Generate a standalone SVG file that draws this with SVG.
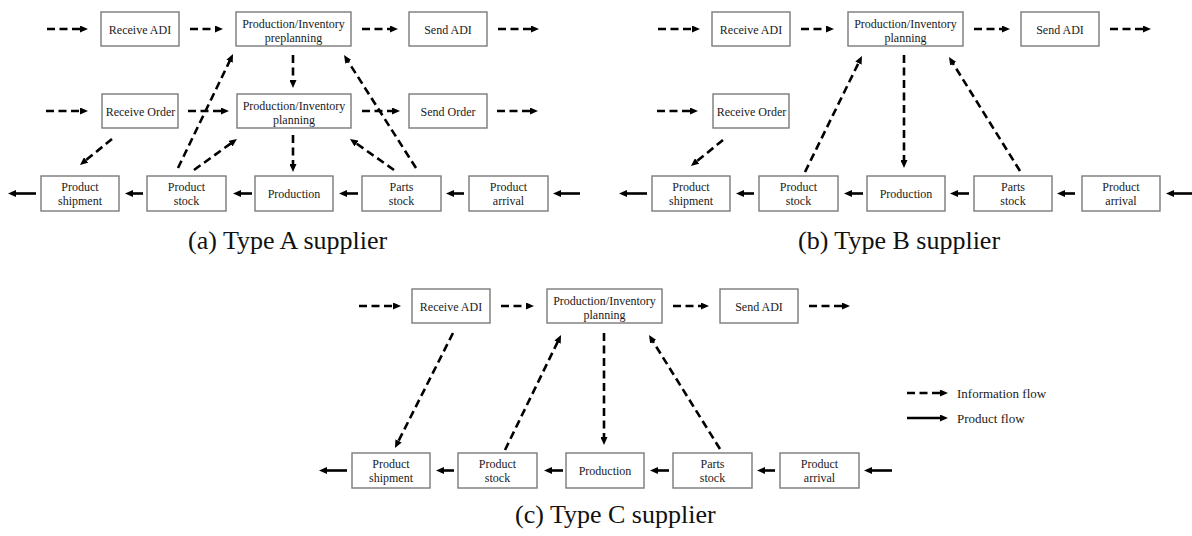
<svg xmlns="http://www.w3.org/2000/svg" width="1192" height="536" viewBox="0 0 1192 536">
  <style>
    .box { fill: #ffffff; stroke: #7a7a7a; stroke-width: 1.4; }
    .t { font-family: "Liberation Serif", "Times New Roman", serif; font-size: 12px; text-anchor: middle; fill: #1a1a1a; }
    .cap { font-family: "Liberation Serif", "Times New Roman", serif; font-size: 26px; fill: #111; }
    .lg { font-family: "Liberation Serif", "Times New Roman", serif; font-size: 13px; fill: #1a1a1a; }
    .info { stroke: #000; stroke-width: 2.6; stroke-dasharray: 8 4.5; fill: none; marker-end: url(#ah); }
    .prod { stroke: #000; stroke-width: 2.6; fill: none; marker-end: url(#ah); }
  </style>
  <defs>
    <marker id="ah" markerUnits="userSpaceOnUse" markerWidth="8" markerHeight="7" viewBox="0 0 8 7" refX="1.5" refY="3.5" orient="auto">
      <path d="M0,0 L8,3.5 L0,7 z" fill="#000"/>
    </marker>
  </defs>

  <rect width="1192" height="536" fill="#ffffff"/>

  <!-- ===== (a) Type A supplier ===== -->
  <g id="a-receive-adi"><rect class="box" x="101" y="12" width="78" height="34"/><text class="t" x="140" y="33.5">Receive ADI</text></g>
  <g id="a-preplanning"><rect class="box" x="236" y="12" width="115" height="34"/><text class="t" x="293.5" y="27.5">Production/Inventory</text><text class="t" x="293.5" y="41.5">preplanning</text></g>
  <g id="a-send-adi"><rect class="box" x="409" y="12" width="78" height="34"/><text class="t" x="448" y="33.5">Send ADI</text></g>
  <g id="a-receive-order"><rect class="box" x="102" y="94" width="76" height="34"/><text class="t" x="140.5" y="115.5">Receive Order</text></g>
  <g id="a-planning"><rect class="box" x="237" y="94" width="114" height="34"/><text class="t" x="294" y="109.5">Production/Inventory</text><text class="t" x="294" y="123.5">planning</text></g>
  <g id="a-send-order"><rect class="box" x="409" y="94" width="78" height="34"/><text class="t" x="448" y="115.5">Send Order</text></g>
  <g id="a-shipment"><rect class="box" x="41" y="176" width="78" height="35"/><text class="t" x="80" y="191">Product</text><text class="t" x="80" y="205">shipment</text></g>
  <g id="a-product-stock"><rect class="box" x="147" y="176" width="79" height="35"/><text class="t" x="186.5" y="191">Product</text><text class="t" x="186.5" y="205">stock</text></g>
  <g id="a-production"><rect class="box" x="255" y="176" width="78" height="35"/><text class="t" x="294" y="198">Production</text></g>
  <g id="a-parts-stock"><rect class="box" x="362" y="176" width="79" height="35"/><text class="t" x="401.5" y="191">Parts</text><text class="t" x="401.5" y="205">stock</text></g>
  <g id="a-arrival"><rect class="box" x="469" y="176" width="79" height="35"/><text class="t" x="508.5" y="191">Product</text><text class="t" x="508.5" y="205">arrival</text></g>
  <text class="cap" x="188" y="249">(a) Type A supplier</text>

  <!-- ===== (b) Type B supplier ===== -->
  <g id="b-receive-adi"><rect class="box" x="712" y="12" width="78" height="34"/><text class="t" x="751" y="33.5">Receive ADI</text></g>
  <g id="b-planning"><rect class="box" x="848" y="12" width="115" height="34"/><text class="t" x="905.5" y="27.5">Production/Inventory</text><text class="t" x="905.5" y="41.5">planning</text></g>
  <g id="b-send-adi"><rect class="box" x="1021" y="12" width="78" height="34"/><text class="t" x="1060" y="33.5">Send ADI</text></g>
  <g id="b-receive-order"><rect class="box" x="713" y="94" width="76" height="34"/><text class="t" x="751.5" y="115.5">Receive Order</text></g>
  <g id="b-shipment"><rect class="box" x="652" y="176" width="78" height="35"/><text class="t" x="691" y="191">Product</text><text class="t" x="691" y="205">shipment</text></g>
  <g id="b-product-stock"><rect class="box" x="759" y="176" width="79" height="35"/><text class="t" x="798.5" y="191">Product</text><text class="t" x="798.5" y="205">stock</text></g>
  <g id="b-production"><rect class="box" x="867" y="176" width="78" height="35"/><text class="t" x="906" y="198">Production</text></g>
  <g id="b-parts-stock"><rect class="box" x="974" y="176" width="78" height="35"/><text class="t" x="1013" y="191">Parts</text><text class="t" x="1013" y="205">stock</text></g>
  <g id="b-arrival"><rect class="box" x="1082" y="176" width="78" height="35"/><text class="t" x="1121" y="191">Product</text><text class="t" x="1121" y="205">arrival</text></g>
  <text class="cap" x="798" y="249">(b) Type B supplier</text>

  <!-- ===== (c) Type C supplier ===== -->
  <g id="c-receive-adi"><rect class="box" x="412" y="289" width="78" height="34"/><text class="t" x="451" y="310.5">Receive ADI</text></g>
  <g id="c-planning"><rect class="box" x="547" y="289" width="115" height="34"/><text class="t" x="604.5" y="304.5">Production/Inventory</text><text class="t" x="604.5" y="318.5">planning</text></g>
  <g id="c-send-adi"><rect class="box" x="720" y="289" width="78" height="34"/><text class="t" x="759" y="310.5">Send ADI</text></g>
  <g id="c-shipment"><rect class="box" x="352" y="453" width="78" height="35"/><text class="t" x="391" y="468">Product</text><text class="t" x="391" y="482">shipment</text></g>
  <g id="c-product-stock"><rect class="box" x="458" y="453" width="79" height="35"/><text class="t" x="497.5" y="468">Product</text><text class="t" x="497.5" y="482">stock</text></g>
  <g id="c-production"><rect class="box" x="566" y="453" width="78" height="35"/><text class="t" x="605" y="475">Production</text></g>
  <g id="c-parts-stock"><rect class="box" x="673" y="453" width="79" height="35"/><text class="t" x="712.5" y="468">Parts</text><text class="t" x="712.5" y="482">stock</text></g>
  <g id="c-arrival"><rect class="box" x="780" y="453" width="79" height="35"/><text class="t" x="819.5" y="468">Product</text><text class="t" x="819.5" y="482">arrival</text></g>
  <text class="cap" x="515" y="523">(c) Type C supplier</text>

  <!-- legend -->
  <g id="legend">
    <line class="info" x1="907" y1="393" x2="941.5" y2="393"/>
    <text class="lg" x="957" y="397.5">Information flow</text>
    <line class="prod" x1="907" y1="418" x2="941.5" y2="418"/>
    <text class="lg" x="957" y="422.5">Product flow</text>
  </g>

  <!-- connectors -->
  <g id="connectors">
    <!-- (a) information flow -->
    <line class="info" x1="47" y1="29" x2="81.5" y2="29"/>
    <line class="info" x1="190" y1="29" x2="216.5" y2="29"/>
    <line class="info" x1="362" y1="29" x2="391.5" y2="29"/>
    <line class="info" x1="498" y1="29" x2="532.5" y2="29"/>
    <line class="info" x1="46" y1="111" x2="81.5" y2="111"/>
    <line class="info" x1="188" y1="111" x2="222.5" y2="111"/>
    <line class="info" x1="362" y1="111" x2="393.5" y2="111"/>
    <line class="info" x1="497" y1="111" x2="531.5" y2="111"/>
    <line class="info" x1="293" y1="55" x2="293" y2="81.5"/>
    <line class="info" x1="293" y1="135" x2="293" y2="165.5"/>
    <line class="info" x1="112" y1="139" x2="85" y2="160.9"/>
    <line class="info" x1="178" y1="168" x2="230.2" y2="59.9"/>
    <line class="info" x1="194" y1="170" x2="231.7" y2="142.8"/>
    <line class="info" x1="394" y1="170" x2="355.3" y2="142.7"/>
    <line class="info" x1="416" y1="168" x2="347.5" y2="60.5"/>
    <!-- (a) product flow -->
    <line class="prod" x1="36" y1="193.5" x2="14.5" y2="193.5"/>
    <line class="prod" x1="143" y1="193.5" x2="131.5" y2="193.5"/>
    <line class="prod" x1="252" y1="193.5" x2="239.5" y2="193.5"/>
    <line class="prod" x1="358" y1="193.5" x2="345.5" y2="193.5"/>
    <line class="prod" x1="464" y1="193.5" x2="452.5" y2="193.5"/>
    <line class="prod" x1="580" y1="193.5" x2="559.5" y2="193.5"/>

    <!-- (b) information flow -->
    <line class="info" x1="658" y1="29" x2="693.5" y2="29"/>
    <line class="info" x1="801" y1="29" x2="827.5" y2="29"/>
    <line class="info" x1="974" y1="29" x2="1003.5" y2="29"/>
    <line class="info" x1="1110" y1="29" x2="1144.5" y2="29"/>
    <line class="info" x1="657" y1="111" x2="691.5" y2="111"/>
    <line class="info" x1="723" y1="140" x2="696" y2="161.9"/>
    <line class="info" x1="805" y1="172" x2="859.1" y2="61.8"/>
    <line class="info" x1="904" y1="55" x2="904" y2="161.5"/>
    <line class="info" x1="1020" y1="171" x2="952.4" y2="62.5"/>
    <!-- (b) product flow -->
    <line class="prod" x1="647" y1="193.5" x2="625.5" y2="193.5"/>
    <line class="prod" x1="754" y1="193.5" x2="742.5" y2="193.5"/>
    <line class="prod" x1="863" y1="193.5" x2="850.5" y2="193.5"/>
    <line class="prod" x1="969" y1="193.5" x2="956.5" y2="193.5"/>
    <line class="prod" x1="1075" y1="193.5" x2="1063.5" y2="193.5"/>
    <line class="prod" x1="1196" y1="193.5" x2="1172.5" y2="193.5"/>

    <!-- (c) information flow -->
    <line class="info" x1="359" y1="306" x2="394.5" y2="306"/>
    <line class="info" x1="501" y1="306" x2="527.5" y2="306"/>
    <line class="info" x1="673" y1="306" x2="702.5" y2="306"/>
    <line class="info" x1="809" y1="306" x2="843.5" y2="306"/>
    <line class="info" x1="453" y1="333" x2="397.9" y2="442.2"/>
    <line class="info" x1="505" y1="450" x2="558.2" y2="340.8"/>
    <line class="info" x1="604" y1="333" x2="604" y2="438.5"/>
    <line class="info" x1="720" y1="449" x2="652.4" y2="340.5"/>
    <!-- (c) product flow -->
    <line class="prod" x1="347" y1="470.5" x2="325.5" y2="470.5"/>
    <line class="prod" x1="454" y1="470.5" x2="442.5" y2="470.5"/>
    <line class="prod" x1="563" y1="470.5" x2="550.5" y2="470.5"/>
    <line class="prod" x1="669" y1="470.5" x2="656.5" y2="470.5"/>
    <line class="prod" x1="775" y1="470.5" x2="763.5" y2="470.5"/>
    <line class="prod" x1="892" y1="470.5" x2="870.5" y2="470.5"/>
  </g>
</svg>
